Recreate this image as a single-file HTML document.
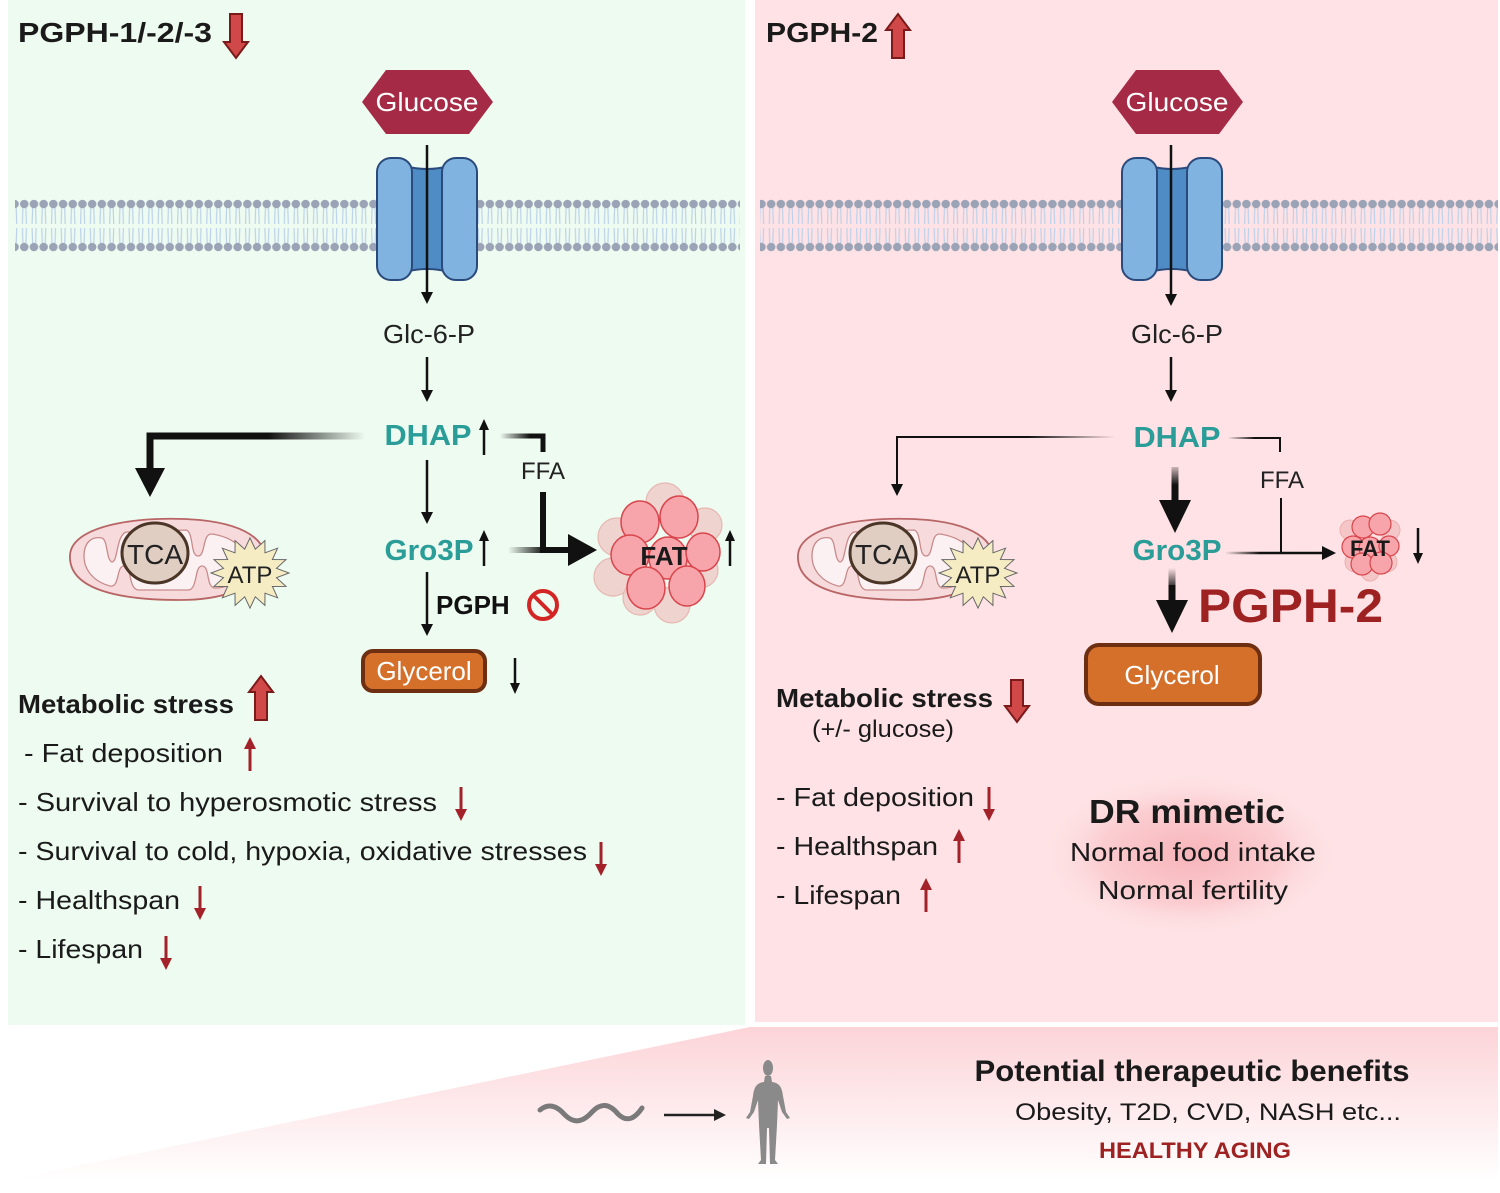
<!DOCTYPE html>
<html><head><meta charset="utf-8"><style>
html,body{margin:0;padding:0;background:#fff}
svg{display:block}
text{font-family:"Liberation Sans",Arial,sans-serif}
</style></head><body>
<svg id="s" width="1500" height="1193" viewBox="0 0 1500 1193" xmlns="http://www.w3.org/2000/svg">
<defs>
<pattern id="mem" x="0" y="199" width="9.7" height="53" patternUnits="userSpaceOnUse">
<g stroke="#bcd2ea" stroke-width="1.2" fill="none">
<path d="M3.5 9 L3 25 M6.5 9 L7 25 M3 29 L3.5 44 M7 29 L6.5 44"/>
</g>
<circle cx="4.85" cy="5" r="4.3" fill="#9ba4b6"/>
<circle cx="4.85" cy="48" r="4.3" fill="#9ba4b6"/>
</pattern>
<linearGradient id="fadeL" gradientUnits="userSpaceOnUse" x1="150" y1="0" x2="365" y2="0">
<stop offset="0.55" stop-color="#111"/><stop offset="1" stop-color="#111" stop-opacity="0"/></linearGradient>
<linearGradient id="fadeR" gradientUnits="userSpaceOnUse" x1="897" y1="0" x2="1115" y2="0">
<stop offset="0.6" stop-color="#111"/><stop offset="1" stop-color="#111" stop-opacity="0"/></linearGradient>
<linearGradient id="fadeG" gradientUnits="userSpaceOnUse" x1="508" y1="0" x2="545" y2="0">
<stop offset="0" stop-color="#111" stop-opacity="0"/><stop offset="1" stop-color="#111"/></linearGradient>
<linearGradient id="fadeD" gradientUnits="userSpaceOnUse" x1="500" y1="0" x2="530" y2="0">
<stop offset="0" stop-color="#111" stop-opacity="0"/><stop offset="1" stop-color="#111"/></linearGradient>
<linearGradient id="fadeRR" gradientUnits="userSpaceOnUse" x1="1228" y1="0" x2="1255" y2="0">
<stop offset="0" stop-color="#111" stop-opacity="0"/><stop offset="1" stop-color="#111"/></linearGradient>
<linearGradient id="fadeG2" gradientUnits="userSpaceOnUse" x1="1225" y1="0" x2="1260" y2="0">
<stop offset="0" stop-color="#111" stop-opacity="0"/><stop offset="1" stop-color="#111"/></linearGradient>
<linearGradient id="fadeV1" gradientUnits="userSpaceOnUse" x1="0" y1="462" x2="0" y2="485">
<stop offset="0" stop-color="#111" stop-opacity="0"/><stop offset="1" stop-color="#111"/></linearGradient>
<linearGradient id="fadeV2" gradientUnits="userSpaceOnUse" x1="0" y1="568" x2="0" y2="590">
<stop offset="0" stop-color="#111" stop-opacity="0"/><stop offset="1" stop-color="#111"/></linearGradient>
<linearGradient id="bot" x1="0" y1="0" x2="0" y2="1">
<stop offset="0" stop-color="#fcd4d8"/><stop offset="1" stop-color="#fff"/></linearGradient>
<radialGradient id="glow" cx="0.5" cy="0.5" r="0.5">
<stop offset="0" stop-color="#f7b5ba"/><stop offset="0.6" stop-color="#fbcdd1"/><stop offset="1" stop-color="#fde2e4" stop-opacity="0"/></radialGradient>
<g id="ru"><line x1="0" y1="10" x2="0" y2="34" stroke="#a3222a" stroke-width="3"/><polygon points="0,0 -6,12 6,12" fill="#a3222a"/></g>
<g id="ku"><line x1="0" y1="8" x2="0" y2="36" stroke="#111" stroke-width="2.5"/><polygon points="0,0 -5,11 5,11" fill="#111"/></g>
<g id="mitoG">
<path d="M70 555 C72 525 140 515 200 520 C250 525 275 545 260 570 C250 590 220 600 180 600 C120 600 68 590 70 555 Z" fill="#f6dadc" stroke="#b86565" stroke-width="1.8"/>
<path d="M84 556 C84 542 92 536 102 538 C108 540 106 560 112 562 C118 562 116 536 126 532 L186 530 C194 532 190 556 198 556 C206 556 202 533 212 534 C232 537 246 548 246 562 C244 580 230 588 214 588 C206 586 210 566 202 566 C194 566 198 590 188 590 L138 590 C128 588 132 566 124 566 C116 566 120 588 110 586 C94 582 84 570 84 556 Z" fill="#fbf1f3" stroke="#c98b8b" stroke-width="1.3"/>
<ellipse cx="155" cy="553" rx="33" ry="30" fill="#e0cec2" stroke="#4a3526" stroke-width="3"/>
<text x="155" y="564" font-size="28" fill="#222" text-anchor="middle">TCA</text>
</g>
</defs>

<!-- panels -->
<rect x="8" y="0" width="737" height="1025" fill="#eefbf0"/>
<rect x="755" y="0" width="743" height="1022" fill="#fee2e5"/>
<polygon points="750,1027 1498,1027 1498,1182 0,1182" fill="url(#bot)"/>

<!-- membranes -->
<rect x="15" y="199" width="365" height="53" fill="url(#mem)"/>
<rect x="475" y="199" width="265" height="53" fill="url(#mem)"/>
<rect x="760" y="199" width="365" height="53" fill="url(#mem)"/>
<rect x="1220" y="199" width="278" height="53" fill="url(#mem)"/>

<!-- titles -->
<text x="18" y="42" font-size="28" font-weight="bold" fill="#1a1a1a" textLength="194" lengthAdjust="spacingAndGlyphs">PGPH-1/-2/-3</text>
<polygon points="230,14 242,14 242,42 248,42 236,58 224,42 230,42" fill="#d04848" stroke="#7a1a1a" stroke-width="2"/>
<text x="766" y="42" font-size="28" font-weight="bold" fill="#1a1a1a" textLength="112" lengthAdjust="spacingAndGlyphs">PGPH-2</text>
<polygon points="892,58 904,58 904,30 910,30 898,14 886,30 892,30" fill="#d04848" stroke="#7a1a1a" stroke-width="2"/>

<!-- glucose -->
<polygon points="362,102 386,70 469,70 493,102 469,134 386,134" fill="#a52a45"/>
<text x="427" y="111" font-size="26" fill="#fff" text-anchor="middle" textLength="103" lengthAdjust="spacingAndGlyphs">Glucose</text>
<polygon points="1112,102 1136,70 1219,70 1243,102 1219,134 1136,134" fill="#a52a45"/>
<text x="1177" y="111" font-size="26" fill="#fff" text-anchor="middle" textLength="103" lengthAdjust="spacingAndGlyphs">Glucose</text>

<!-- transporters -->
<g stroke="#2b4a7c" stroke-width="2">
<path d="M405 166 Q427 172 449 166 L449 272 Q427 266 405 272 Z" fill="#4f8cc6"/>
<rect x="377" y="158" width="35" height="122" rx="14" fill="#80b3e0"/>
<rect x="442" y="158" width="35" height="122" rx="14" fill="#80b3e0"/>
<path d="M1150 166 Q1172 172 1194 166 L1194 272 Q1172 266 1150 272 Z" fill="#4f8cc6"/>
<rect x="1122" y="158" width="35" height="122" rx="14" fill="#80b3e0"/>
<rect x="1187" y="158" width="35" height="122" rx="14" fill="#80b3e0"/>
</g>
<line x1="427" y1="145" x2="427" y2="295" stroke="#111" stroke-width="2.5"/>
<polygon points="421,292 433,292 427,304" fill="#111"/>
<line x1="1171" y1="145" x2="1171" y2="297" stroke="#111" stroke-width="2.5"/>
<polygon points="1165,294 1177,294 1171,306" fill="#111"/>

<!-- LEFT pathway -->
<text x="429" y="343" font-size="26" fill="#222" text-anchor="middle" textLength="92" lengthAdjust="spacingAndGlyphs">Glc-6-P</text>
<line x1="427" y1="357" x2="427" y2="392" stroke="#111" stroke-width="2.5"/><polygon points="421,390 433,390 427,402" fill="#111"/>
<text x="428" y="445" font-size="29" font-weight="bold" fill="#2a9d98" text-anchor="middle" textLength="87" lengthAdjust="spacingAndGlyphs">DHAP</text>
<use href="#ku" x="484" y="419"/>
<path d="M365 436 L150 436 L150 470" fill="none" stroke="url(#fadeL)" stroke-width="7"/>
<line x1="150" y1="436" x2="150" y2="470" stroke="#111" stroke-width="7"/>
<polygon points="135,468 165,468 150,497" fill="#111"/>
<path d="M500 436 L543 436 L543 452" fill="none" stroke="url(#fadeD)" stroke-width="5"/>
<line x1="543" y1="436" x2="543" y2="452" stroke="#111" stroke-width="5"/>
<text x="543" y="479" font-size="24" fill="#222" text-anchor="middle">FFA</text>
<line x1="543" y1="492" x2="543" y2="553" stroke="#111" stroke-width="6"/>
<line x1="508" y1="550" x2="572" y2="550" stroke="url(#fadeG)" stroke-width="6"/>
<polygon points="568,534 568,566 597,550" fill="#111"/>
<line x1="427" y1="460" x2="427" y2="514" stroke="#111" stroke-width="2.5"/><polygon points="421,512 433,512 427,524" fill="#111"/>
<text x="429" y="560" font-size="29" font-weight="bold" fill="#2a9d98" text-anchor="middle" textLength="89" lengthAdjust="spacingAndGlyphs">Gro3P</text>
<use href="#ku" x="484" y="530"/>
<line x1="427" y1="572" x2="427" y2="626" stroke="#111" stroke-width="2.5"/><polygon points="421,624 433,624 427,636" fill="#111"/>
<text x="436" y="614" font-size="26" font-weight="bold" fill="#111">PGPH</text>
<circle cx="543" cy="605" r="14" fill="none" stroke="#d42525" stroke-width="4"/>
<line x1="533" y1="595" x2="553" y2="615" stroke="#d42525" stroke-width="4"/>
<rect x="363" y="651" width="122" height="40" rx="10" fill="#d5702a" stroke="#6e2e12" stroke-width="4"/>
<text x="424" y="680" font-size="26" fill="#fff" text-anchor="middle">Glycerol</text>
<g transform="translate(515,694) scale(1,-1)"><use href="#ku"/></g>

<!-- FAT left -->
<g stroke="#e6b8b2" stroke-width="1.2" fill="#efd3ce">
<circle cx="617" cy="537" r="19"/><circle cx="613" cy="577" r="19"/><circle cx="665" cy="502" r="19"/>
<circle cx="700" cy="570" r="18"/><circle cx="672" cy="605" r="18"/><circle cx="705" cy="525" r="17"/><circle cx="640" cy="598" r="17"/>
</g>
<g stroke="#d9454c" stroke-width="1.5" fill="#f7a5aa">
<ellipse cx="640" cy="522" rx="19" ry="21"/><ellipse cx="679" cy="517" rx="19" ry="21"/>
<ellipse cx="630" cy="555" rx="19" ry="20"/><ellipse cx="668" cy="558" rx="19" ry="21"/>
<ellipse cx="703" cy="552" rx="17" ry="19"/><ellipse cx="646" cy="588" rx="19" ry="21"/><ellipse cx="687" cy="586" rx="18" ry="20"/>
</g>
<text x="664" y="565" font-size="26" font-weight="bold" fill="#1a1a1a" text-anchor="middle">FAT</text>
<use href="#ku" x="730" y="530"/>

<!-- mitochondria -->
<use href="#mitoG"/>
<polygon class="star" data-cx="250" data-cy="573" fill="#f6ecc3" stroke="#666" stroke-width="1"/>
<text x="250" y="583" font-size="24" fill="#222" text-anchor="middle">ATP</text>
<use href="#mitoG" x="728"/>
<polygon class="star" data-cx="978" data-cy="573" fill="#f6ecc3" stroke="#666" stroke-width="1"/>
<text x="978" y="583" font-size="24" fill="#222" text-anchor="middle">ATP</text>

<!-- left list -->
<g font-size="26" fill="#1a1a1a">
<text x="18" y="713" font-weight="bold" textLength="216" lengthAdjust="spacingAndGlyphs">Metabolic stress</text>
<text x="24" y="762" textLength="199" lengthAdjust="spacingAndGlyphs">- Fat deposition</text>
<text x="18" y="811" textLength="419" lengthAdjust="spacingAndGlyphs">- Survival to hyperosmotic stress</text>
<text x="18" y="860" textLength="569" lengthAdjust="spacingAndGlyphs">- Survival to cold, hypoxia, oxidative stresses</text>
<text x="18" y="909" textLength="162" lengthAdjust="spacingAndGlyphs">- Healthspan</text>
<text x="18" y="958" textLength="125" lengthAdjust="spacingAndGlyphs">- Lifespan</text>
</g>
<polygon points="255,720 267,720 267,692 273,692 261,676 249,692 255,692" fill="#d04848" stroke="#7a1a1a" stroke-width="2"/>
<use href="#ru" x="250" y="737"/>
<g transform="translate(461,821) scale(1,-1)"><use href="#ru"/></g>
<g transform="translate(601,876) scale(1,-1)"><use href="#ru"/></g>
<g transform="translate(200,920) scale(1,-1)"><use href="#ru"/></g>
<g transform="translate(166,970) scale(1,-1)"><use href="#ru"/></g>

<!-- RIGHT pathway -->
<text x="1177" y="343" font-size="26" fill="#222" text-anchor="middle" textLength="92" lengthAdjust="spacingAndGlyphs">Glc-6-P</text>
<line x1="1171" y1="357" x2="1171" y2="392" stroke="#111" stroke-width="2.5"/><polygon points="1165,390 1177,390 1171,402" fill="#111"/>
<text x="1177" y="447" font-size="29" font-weight="bold" fill="#2a9d98" text-anchor="middle" textLength="87" lengthAdjust="spacingAndGlyphs">DHAP</text>
<path d="M1115 437 L897 437" fill="none" stroke="url(#fadeR)" stroke-width="2"/>
<line x1="897" y1="436" x2="897" y2="486" stroke="#111" stroke-width="2"/><polygon points="891,484 903,484 897,496" fill="#111"/>
<path d="M1228 438 L1280 438 L1280 452" fill="none" stroke="url(#fadeRR)" stroke-width="2"/>
<line x1="1280" y1="438" x2="1280" y2="452" stroke="#111" stroke-width="2"/>
<text x="1282" y="488" font-size="24" fill="#222" text-anchor="middle">FFA</text>
<line x1="1281" y1="498" x2="1281" y2="554" stroke="#111" stroke-width="2"/>
<line x1="1225" y1="553" x2="1325" y2="553" stroke="url(#fadeG2)" stroke-width="2.5"/>
<polygon points="1322,546 1322,560 1336,553" fill="#111"/>
<line x1="1175" y1="467" x2="1175" y2="505" stroke="url(#fadeV1)" stroke-width="7"/>
<polygon points="1159,500 1191,500 1175,533" fill="#111"/>
<text x="1177" y="560" font-size="29" font-weight="bold" fill="#2a9d98" text-anchor="middle" textLength="89" lengthAdjust="spacingAndGlyphs">Gro3P</text>
<line x1="1172" y1="568" x2="1172" y2="602" stroke="url(#fadeV2)" stroke-width="7"/>
<line x1="1172" y1="585" x2="1172" y2="602" stroke="#111" stroke-width="7"/>
<polygon points="1156,600 1188,600 1172,633" fill="#111"/>
<text x="1198" y="622" font-size="47" font-weight="bold" fill="#9e2222" textLength="185" lengthAdjust="spacingAndGlyphs">PGPH-2</text>
<rect x="1086" y="645" width="174" height="59" rx="13" fill="#d5702a" stroke="#6e2e12" stroke-width="4"/>
<text x="1172" y="684" font-size="26" fill="#fff" text-anchor="middle">Glycerol</text>
<!-- FAT right -->
<g stroke="#e9aaa8" stroke-width="1" fill="#f5c4c4" opacity="0.9">
<circle cx="1350" cy="530" r="10"/><circle cx="1390" cy="530" r="10"/><circle cx="1355" cy="562" r="10"/><circle cx="1387" cy="562" r="10"/><circle cx="1370" cy="572" r="9"/>
</g>
<g stroke="#d9454c" stroke-width="1.2" fill="#f7a5aa">
<circle cx="1363" cy="527" r="11"/><circle cx="1380" cy="524" r="11"/><circle cx="1353" cy="547" r="11"/><circle cx="1370" cy="548" r="11"/>
<circle cx="1389" cy="546" r="10"/><circle cx="1362" cy="564" r="11"/><circle cx="1381" cy="563" r="11"/>
</g>
<text x="1370" y="556" font-size="22" font-weight="bold" fill="#1a1a1a" text-anchor="middle">FAT</text>
<g transform="translate(1418,564) scale(1,-1)"><use href="#ku"/></g>

<!-- right list -->
<ellipse cx="1190" cy="855" rx="150" ry="82" fill="url(#glow)"/>
<g font-size="26" fill="#1a1a1a">
<text x="776" y="707" font-weight="bold" textLength="217" lengthAdjust="spacingAndGlyphs">Metabolic stress</text>
<text x="883" y="737" font-size="24" text-anchor="middle" textLength="142" lengthAdjust="spacingAndGlyphs">(+/- glucose)</text>
<text x="776" y="806" textLength="198" lengthAdjust="spacingAndGlyphs">- Fat deposition</text>
<text x="776" y="855" textLength="162" lengthAdjust="spacingAndGlyphs">- Healthspan</text>
<text x="776" y="904" textLength="125" lengthAdjust="spacingAndGlyphs">- Lifespan</text>
<text x="1187" y="823" font-size="33" font-weight="bold" text-anchor="middle" textLength="196" lengthAdjust="spacingAndGlyphs">DR mimetic</text>
<text x="1193" y="861" text-anchor="middle" textLength="246" lengthAdjust="spacingAndGlyphs">Normal food intake</text>
<text x="1193" y="899" text-anchor="middle" textLength="190" lengthAdjust="spacingAndGlyphs">Normal fertility</text>
</g>
<polygon points="1011,680 1023,680 1023,706 1029,706 1017,722 1005,706 1011,706" fill="#d04848" stroke="#7a1a1a" stroke-width="2"/>
<g transform="translate(989,821) scale(1,-1)"><use href="#ru"/></g>
<use href="#ru" x="959" y="829"/>
<use href="#ru" x="926" y="878"/>

<!-- bottom -->
<path d="M540 1110 Q552 1100 565 1115 Q578 1128 592 1112 Q605 1098 618 1114 Q630 1126 642 1108" fill="none" stroke="#7a7a7a" stroke-width="5" stroke-linecap="round"/>
<line x1="664" y1="1115" x2="716" y2="1115" stroke="#222" stroke-width="2.5"/>
<polygon points="714,1109 714,1121 726,1115" fill="#222"/>
<g fill="#8a8a8a">
<ellipse cx="768" cy="1068" rx="5" ry="8"/>
<path d="M765 1076 L771 1076 L772 1082 C780 1083 782 1088 783 1096 L786 1112 L790 1118 L787 1119 L782 1112 L778 1100 L777 1125 L775 1160 L778 1164 L770 1164 L769 1128 L767 1128 L766 1164 L758 1164 L761 1160 L759 1125 L758 1100 L754 1112 L749 1119 L746 1118 L750 1112 L753 1096 C754 1088 756 1083 764 1082 Z"/>
</g>
<text x="1192" y="1081" font-size="30" font-weight="bold" fill="#1a1a1a" text-anchor="middle" textLength="435" lengthAdjust="spacingAndGlyphs">Potential therapeutic benefits</text>
<text x="1208" y="1120" font-size="24" fill="#1a1a1a" text-anchor="middle" textLength="386" lengthAdjust="spacingAndGlyphs">Obesity, T2D, CVD, NASH etc...</text>
<text x="1195" y="1158" font-size="22" font-weight="bold" fill="#9e2222" text-anchor="middle" textLength="192" lengthAdjust="spacingAndGlyphs">HEALTHY AGING</text>
</svg>
<script>
document.querySelectorAll('polygon.star').forEach(function(p){
 var cx=+p.getAttribute('data-cx'),cy=+p.getAttribute('data-cy'),pts=[];
 for(var i=0;i<32;i++){var a=i*Math.PI/16,r=i%2?27:39;pts.push((cx+r*Math.cos(a)).toFixed(1)+','+(cy+r*0.9*Math.sin(a)).toFixed(1));}
 p.setAttribute('points',pts.join(' '));
});
</script>
</body></html>
